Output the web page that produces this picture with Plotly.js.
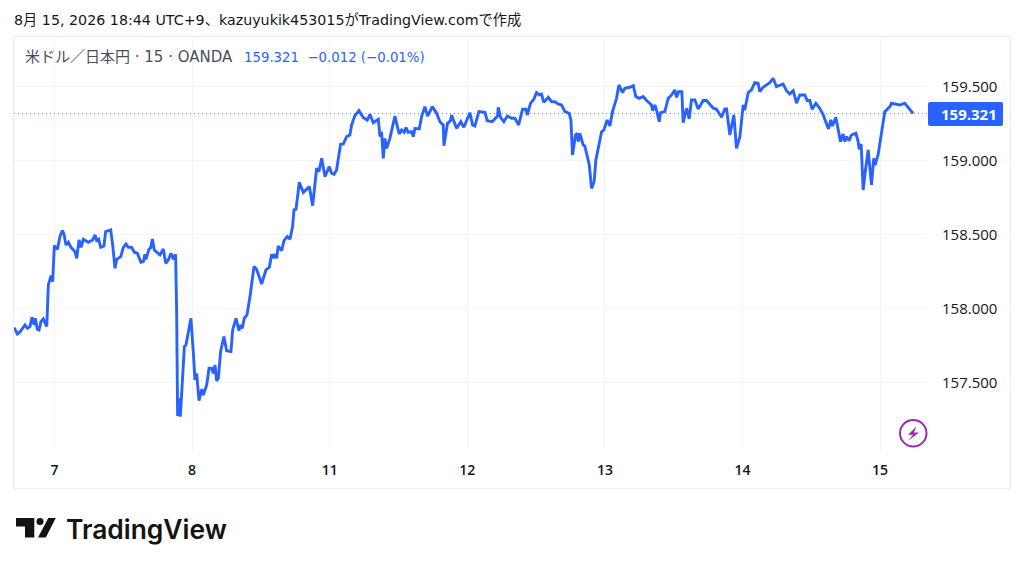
<!DOCTYPE html>
<html><head><meta charset="utf-8">
<script src="https://cdn.plot.ly/plotly-3.0.1.min.js"></script>
<style>html,body{margin:0;padding:0;background:#fff;overflow:hidden}#c{width:1024px;height:569px}</style>
</head><body><div id="c"></div>
<script>
// 15-minute bar number counted from the start of day "7"
const bars = [-28.2,-25.9,-24.1,-20.6,-18.9,-17.1,-15.7,-14.1,-13.4,-12,-10.8,-9.4,-7.8,-6.6,-5.4,-4.3,-2.4,-1.3,-0.1,2,3.9,5.5,6.6,8,9.7,11.5,14.3,15.5,17.1,18.5,20.1,23.6,26.6,28.3,29.4,30.8,32.2,34.5,35.7,39.2,40.6,42.2,43.4,46.2,48,49.9,51.5,53.8,55.7,57.8,60.3,62,63.1,63.8,65.9,67.1,68.3,69.6,73.6,75.9,77.6,79.4,81.3,82.9,84.5,85.2,85.9,87.1,87.8,89.4,90.6,91.7,95.2,96.9,98,99.2,100.8,102.7,103.8,106.2,107.8,109.6,110.8,112,113.1,114.3,115.9,118.2,120.1,123.1,124.3,126.6,128.7,129.9,131,132.4,134.3,136.4,139.2,141,144.5,147.5,149.9,151.5,152.7,153.8,155,156.1,158.5,160.1,162.4,164.3,166.1,167.1,168.5,170.8,173.6,177.8,180.1,182.9,184.5,186.4,188.7,191.7,193.3,195,196.8,199.6,201.5,203.8,206.1,207.3,209.6,212.4,215.4,218.2,220.1,222.4,225.9,227.1,228.2,229.4,230.5,231.7,234,237.5,240.5,242.2,244,245.2,246.8,249.1,250.3,251.5,254.5,256.1,258.4,260.3,263.6,266.6,268.9,271.2,271.7,274.2,276.3,277,278.7,280.5,283.5,285.6,289.8,291.7,293.3,296.1,300.3,301.9,305.4,307.3,309.1,309.6,311.2,313.5,315.9,318.9,321.2,323.8,325.9,326.6,328.9,329.8,332.1,334.5,336.3,338.2,339.8,341.4,344.5,346.8,349.1,351.4,353.8,356.1,359.1,360.3,361.4,363.5,364.7,365.4,366.5,368.9,370,373.1,374.7,376.5,377.7,380,381.7,383.3,385.6,387.5,389.3,392.1,393.8,396.3,397.9,401.4,403.8,405.6,407.9,410.7,413.1,416.5,417.2,418.9,420,421.9,422.8,425.8,428.2,430.5,432.8,434,435.4,437.7,438.6,441,442.8,444.4,446.8,449.1,452.6,454.9,459.6,461.9,465.4,467.7,468.9,471.2,474,475.8,478.2,480.5,481.6,484,486.3,488.6,490.9,492.1,494.4,496.8,499.1,501.4,503.7,508.4,510.7,513,515.4,517.7,520,523.5,525.1,527,528.6,531.2,533.9,536.3,538.6,540,541.6,542.8,545.1,546.7,548.4,550.2,551.4,552.6,554.4,556,559.1,560.7,561.4,562.8,564.2,565.8,567.7,570,571.6,572.5,574.6,579.3,583.2,583.9,587.4,589.8,593.2,595.5,597.9,599];
const prices = [157.872,157.829,157.843,157.89,157.867,157.879,157.942,157.89,157.935,157.861,157.856,157.913,157.931,157.901,157.879,158.161,158.224,158.183,158.427,158.402,158.492,158.528,158.506,158.431,158.449,158.415,158.386,158.341,158.465,158.415,158.47,158.449,158.465,158.499,158.461,158.47,158.415,158.424,158.521,158.533,158.431,158.273,158.334,158.352,158.413,158.438,158.415,158.415,158.382,158.375,158.314,158.318,158.368,158.334,158.402,158.413,158.472,158.397,158.364,158.404,158.307,158.33,158.375,158.334,158.368,157.991,157.274,157.394,157.27,157.54,157.743,157.755,157.935,157.698,157.518,157.563,157.378,157.455,157.416,157.484,157.597,157.597,157.563,157.619,157.511,157.529,157.71,157.811,157.716,157.71,157.856,157.935,157.852,157.89,157.867,157.935,157.958,158.082,158.285,158.267,158.167,158.262,158.28,158.368,158.341,158.37,158.341,158.424,158.393,158.461,158.488,158.47,158.555,158.668,158.672,158.855,158.787,158.826,158.697,158.95,158.927,159.017,158.893,158.961,158.916,158.909,158.938,159.112,159.114,159.164,159.175,159.243,159.306,159.34,159.294,159.276,159.315,159.258,159.281,159.164,159.197,159.017,159.152,159.085,159.152,159.303,159.182,159.209,159.193,159.225,159.193,159.197,159.164,159.22,159.216,159.299,159.367,159.303,159.367,159.322,159.265,159.243,159.103,159.254,159.272,159.31,159.265,159.22,159.265,159.227,159.326,159.243,159.236,159.333,159.328,159.272,159.265,159.288,159.303,159.362,159.294,159.265,159.303,159.288,159.288,159.243,159.31,159.349,159.349,159.31,159.389,159.418,159.461,159.446,159.452,159.396,159.43,159.4,159.4,159.385,159.378,159.333,159.322,159.276,159.04,159.175,159.186,159.13,159.186,159.107,159.101,158.972,158.814,158.859,159.006,159.107,159.197,159.209,159.276,159.236,159.333,159.423,159.514,159.462,159.491,159.498,159.509,159.435,159.423,159.435,159.408,159.378,159.34,159.378,159.344,159.265,159.326,159.333,159.423,159.446,159.48,159.43,159.468,159.468,159.259,159.356,159.284,159.412,159.412,159.351,159.408,159.408,159.356,159.349,159.295,159.351,159.351,159.175,159.311,159.085,159.164,159.378,159.344,159.462,159.48,159.529,159.525,159.468,159.498,159.514,159.529,159.559,159.502,159.52,159.475,159.453,159.475,159.39,159.446,159.446,159.408,159.408,159.349,159.39,159.356,159.311,159.259,159.216,159.277,159.236,159.295,159.209,159.13,159.182,159.13,159.164,159.137,159.175,159.187,159.13,159.078,159.114,158.803,158.938,159.074,158.837,159.017,158.972,159.04,159.333,159.371,159.39,159.385,159.378,159.39,159.362,159.329,159.321];
const dayBars = [0,96,192,288,384,480,576];
const dayLabels = ['7','8','11','12','13','14','15'];
const priceTicks = [157.5,158,158.5,159,159.5];
const lastPrice = 159.321;
const captionText = '8月 15, 2026 18:44 UTC+9、kazuyukik453015がTradingView.comで作成';
const symbolText = '米ドル／日本円 · 15 · OANDA';
const valueText = '159.321  −0.012 (−0.01%)';

const L=14,R=927,T=37,B=450;
const xRange=[(L-54.5)/1.4333,(R-54.5)/1.4333];
const X=p=>(p-L)/(R-L), Y=p=>(B-p)/(B-T);
const poly=pts=>pts.map((q,i)=>(i?'L':'M')+X(q[0]).toFixed(5)+','+Y(q[1]).toFixed(5)).join(' ')+' Z';
const BLUE='#2962ff', INK='#131722', GRID='#f3f4f7';
const cjk='"DejaVu Sans","Noto Sans CJK JP",sans-serif';
const txt=(px,py,text,size,color,anchor,extra)=>Object.assign({xref:'paper',yref:'paper',x:X(px),y:Y(py),text,showarrow:false,xanchor:anchor||'left',yanchor:'middle',font:{family:cjk,size,color}},extra||{});

const shapes=[
 {type:'rect',xref:'paper',yref:'paper',x0:X(13.5),x1:X(1010.5),y0:Y(488.5),y1:Y(36.5),line:{color:'#eceef2',width:1},layer:'below'},
 {type:'path',xref:'paper',yref:'paper',fillcolor:BLUE,line:{width:0},
  path:`M${X(930)},${Y(102)} L${X(1001)},${Y(102)} Q${X(1003)},${Y(102)} ${X(1003)},${Y(104)} L${X(1003)},${Y(124)} Q${X(1003)},${Y(126)} ${X(1001)},${Y(126)} L${X(930)},${Y(126)} Q${X(928)},${Y(126)} ${X(928)},${Y(124)} L${X(928)},${Y(104)} Q${X(928)},${Y(102)} ${X(930)},${Y(102)} Z`},
 {type:'circle',xref:'paper',yref:'paper',x0:X(900),x1:X(926.5),y0:Y(446.5),y1:Y(420),line:{color:'#9c27b0',width:2},fillcolor:'#fff'},
 {type:'path',xref:'paper',yref:'paper',fillcolor:'#9c27b0',line:{width:0},path:poly([[916.5,426.5],[908,434.8],[913,434.8],[908.5,440.5],[919,432.4],[914,432.4]])},
 {type:'path',xref:'paper',yref:'paper',fillcolor:'#131313',line:{width:0},path:poly([[16,518],[34.3,518],[34.3,537.5],[25,537.5],[25,526.5],[16,526.5]])},
 {type:'circle',xref:'paper',yref:'paper',x0:X(36.5),x1:X(43.5),y0:Y(525),y1:Y(518),fillcolor:'#131313',line:{width:0}},
 {type:'path',xref:'paper',yref:'paper',fillcolor:'#131313',line:{width:0},path:poly([[48.3,518],[55.8,518],[45.8,537.5],[38,537.5]])}
];
const annotations=[
 txt(12,20,captionText,14.25,INK),
 txt(23,57.5,symbolText,15,'#4a4e59'),
 txt(242,57.5,valueText,13.3,BLUE,'left'),
 txt(968.5,114,String(lastPrice),15,'#ffffff','center',{font:{family:'"Open Sans",sans-serif',size:15,color:'#fff',weight:700}}),
 txt(63.5,529,'TradingView',26.4,'#131313','left',{font:{family:'Inter,sans-serif',size:26.4,color:'#131313',weight:600}})
];
const data=[
 {type:'scatter',mode:'lines',x:xRange,y:[lastPrice,lastPrice],line:{color:'#5f86ff',width:1,dash:'1px,3px'},hoverinfo:'skip'},
 {type:'scatter',mode:'lines',x:bars,y:prices,line:{color:BLUE,width:2.9,shape:'linear'},hoverinfo:'skip'}
];
const layout={
 width:1024,height:569,paper_bgcolor:'#fff',plot_bgcolor:'#fff',showlegend:false,
 margin:{l:L,r:1024-R,t:T,b:569-B,pad:0},
 xaxis:{range:xRange,tickmode:'array',tickvals:dayBars,ticktext:dayLabels,showgrid:true,gridcolor:GRID,gridwidth:1,zeroline:false,showline:false,ticks:'',ticklabelstandoff:10,tickfont:{family:'"Open Sans",sans-serif',size:14,color:INK,weight:600},fixedrange:true},
 yaxis:{side:'right',range:[157.044,159.838],tickmode:'array',tickvals:priceTicks,tickformat:'.3f',showgrid:true,gridcolor:GRID,gridwidth:1,zeroline:false,showline:false,ticks:'',ticklabelstandoff:14,tickfont:{family:'"Open Sans",sans-serif',size:15,color:INK,weight:500},fixedrange:true},
 shapes,annotations
};
Plotly.newPlot('c',data,layout,{displayModeBar:false,staticPlot:true});
</script></body></html>
